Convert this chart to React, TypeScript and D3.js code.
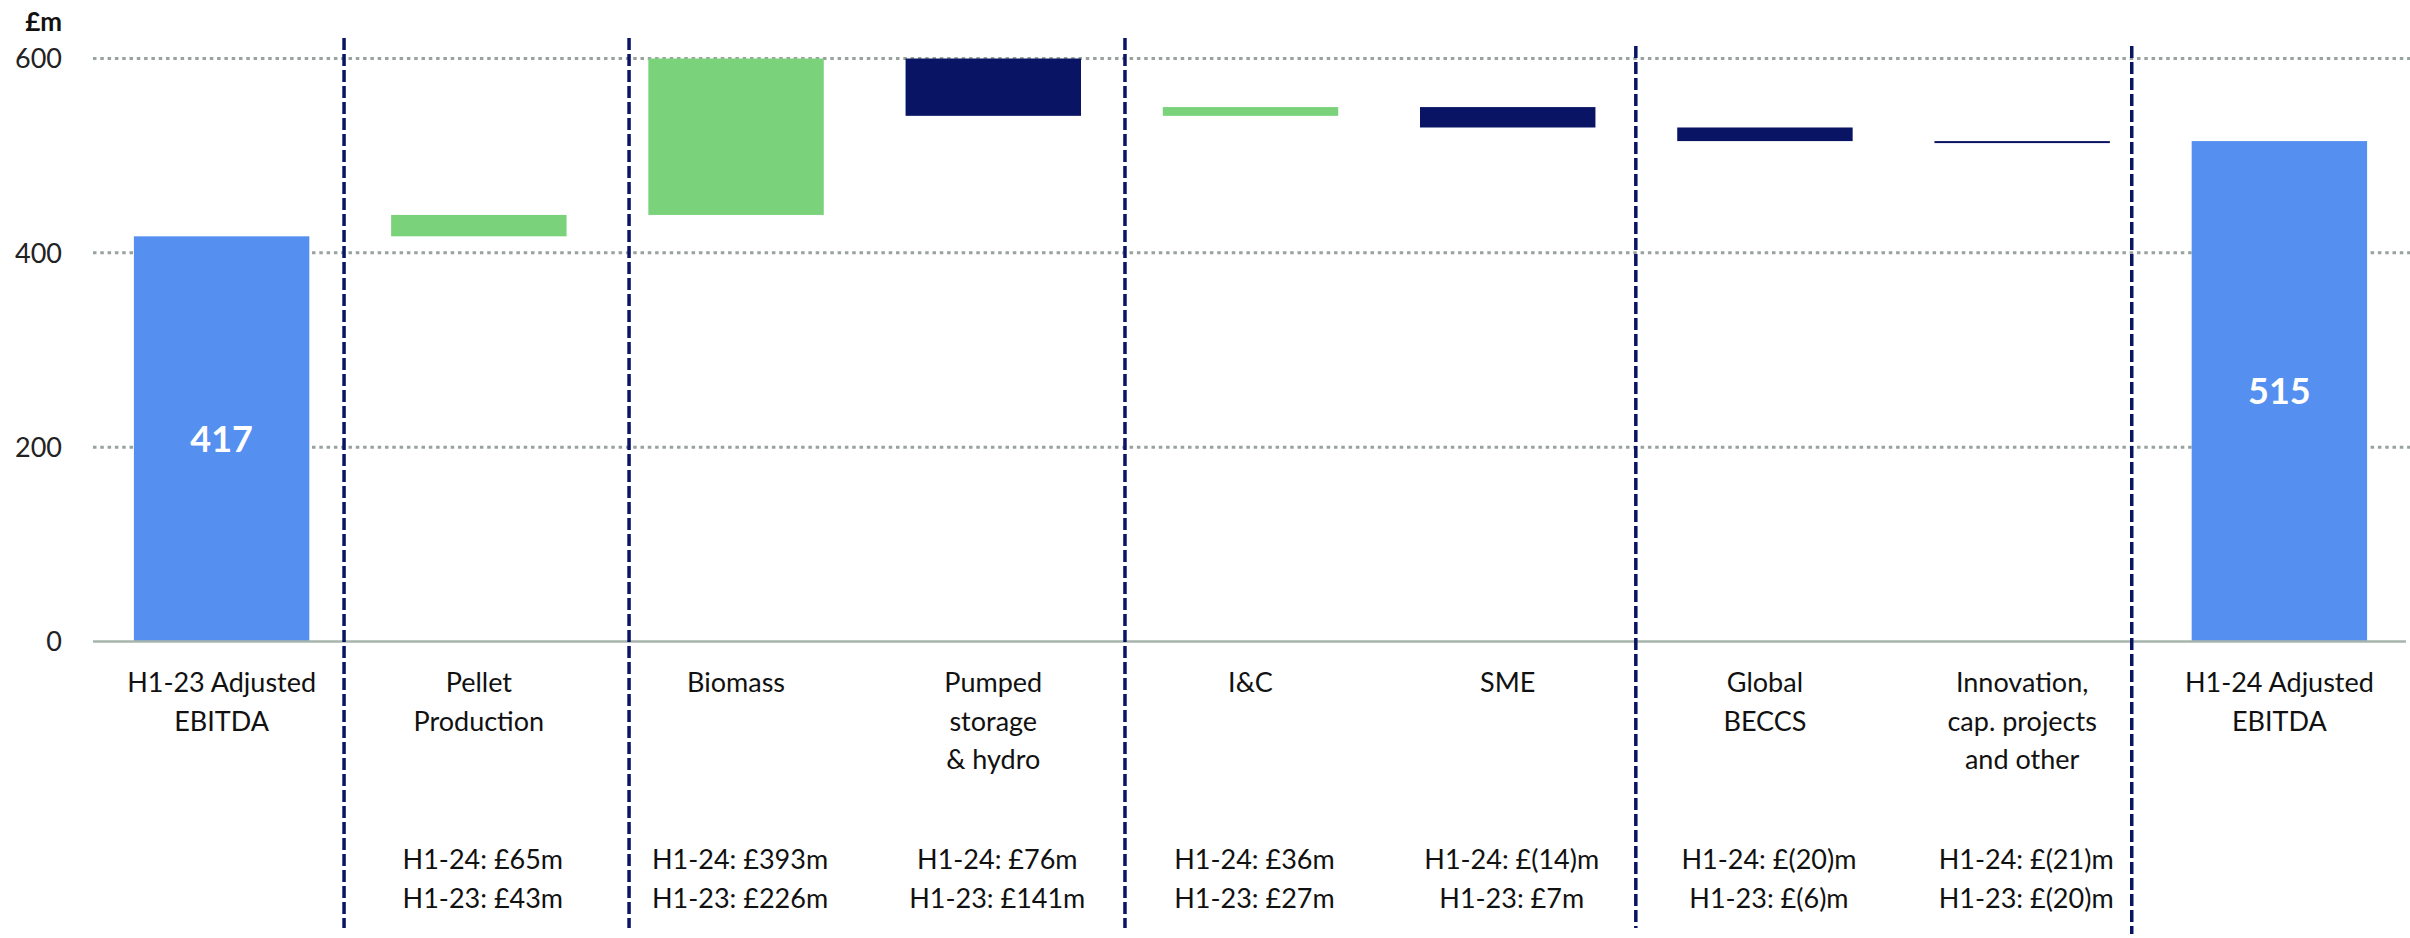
import { useEffect } from "react";
import * as d3 from "d3";

// waterfall data (£m)
const categories = [
  "H1-23 Adjusted EBITDA",
  "Pellet Production",
  "Biomass",
  "Pumped storage & hydro",
  "I&C",
  "SME",
  "Global BECCS",
  "Innovation, cap. projects and other",
  "H1-24 Adjusted EBITDA",
];
const labelLines = [
  ["H1-23 Adjusted", "EBITDA"],
  ["Pellet", "Production"],
  ["Biomass"],
  ["Pumped", "storage", "& hydro"],
  ["I&C"],
  ["SME"],
  ["Global", "BECCS"],
  ["Innovation,", "cap. projects", "and other"],
  ["H1-24 Adjusted", "EBITDA"],
];
const startValue = 417;
const endValue = 515;
const deltas = [22, 167, -65, 9, -21, -14, -1];
const h124 = ["", "£65m", "£393m", "£76m", "£36m", "£(14)m", "£(20)m", "£(21)m", ""];
const h123 = ["", "£43m", "£226m", "£141m", "£27m", "£7m", "£(6)m", "£(20)m", ""];
const yTicks = [0, 200, 400, 600];
// separators, in category steps from the left edge of the plot
const separators = [0.976, 2.084, 4.012, 5.998, 7.926];

const W = 2410;
const H = 938;
const FONT = "Lato, 'Open Sans', sans-serif";

export default function App() {
  useEffect(() => {
    document.body.style.margin = "0";
  }, []);

  const x = d3
    .scaleBand()
    .domain(categories)
    .range([93, 2408])
    .paddingInner(0.318)
    .paddingOuter(0.159);
  const y = d3.scaleLinear().domain([0, 600]).range([641.5, 58.5]).clamp(true);

  // build the floating bars
  let run = startValue;
  const bars = [{ cat: categories[0], y0: 0, y1: startValue, kind: "total" }];
  deltas.forEach((d, i) => {
    const next = run + d;
    bars.push({
      cat: categories[i + 1],
      y0: Math.min(run, next),
      y1: Math.max(run, next),
      kind: d >= 0 ? "up" : "down",
    });
    run = next;
  });
  bars.push({ cat: categories[8], y0: 0, y1: endValue, kind: "total" });

  const colour = { total: "#558FF0", up: "#7AD27A", down: "#0A1464" };
  const step = x.step();
  const x0 = x.range()[0];

  return (
    <svg width={W} height={H} style={{ display: "block", background: "#fff" }}>
      {/* grid */}
      {yTicks.map((t) =>
        t === 0 ? null : (
          <line
            key={t}
            x1={93}
            x2={W}
            y1={y(t)}
            y2={y(t)}
            stroke="#97A39C"
            strokeWidth={3}
            strokeDasharray="3.5 3.8"
          />
        )
      )}
      {yTicks.map((t) => (
        <text
          key={"t" + t}
          x={62}
          y={y(t)}
          dy="0.36em"
          textAnchor="end"
          fontFamily={FONT}
          fontSize={27}
          fill="#222"
        >
          {t}
        </text>
      ))}
      <text x={62} y={31} textAnchor="end" fontFamily={FONT} fontSize={26} fontWeight="bold" fill="#111">
        £m
      </text>

      {/* bars */}
      {bars.map((b) => {
        const top = y(b.y1);
        const h = Math.max(2, y(b.y0) - top);
        return (
          <rect
            key={b.cat}
            x={x(b.cat)}
            y={top}
            width={x.bandwidth()}
            height={h}
            fill={colour[b.kind]}
          />
        );
      })}
      {[bars[0], bars[8]].map((b) => (
        <text
          key={"v" + b.cat}
          x={(x(b.cat) as number) + x.bandwidth() / 2}
          y={(y(b.y1) + y(0)) / 2}
          dy="0.36em"
          textAnchor="middle"
          fontFamily={FONT}
          fontSize={36}
          fontWeight="bold"
          fill="#fff"
        >
          {b.y1}
        </text>
      ))}

      {/* baseline */}
      <line x1={93} x2={W - 4} y1={y(0)} y2={y(0)} stroke="#A7B5AC" strokeWidth={2.5} />

      {/* separators */}
      {separators.map((s, i) => (
        <line
          key={"s" + i}
          x1={x0 + s * step}
          x2={x0 + s * step}
          y1={i === 3 || i === 4 ? 46 : 38}
          y2={i === 4 ? 934 : 928}
          stroke="#0A1464"
          strokeWidth={3.5}
          strokeDasharray="12 4"
        />
      ))}

      {/* category labels */}
      {categories.map((c, i) => {
        const cx = (x(c) as number) + x.bandwidth() / 2;
        return (
          <g key={"c" + c} fontFamily={FONT} fontSize={27} fill="#111" textAnchor="middle">
            {labelLines[i].map((l, j) => (
              <text key={j} x={cx} y={692 + j * 38.7}>
                {l}
              </text>
            ))}
            {h124[i] && (
              <text x={cx + 4} y={869}>
                H1-24: {h124[i]}
              </text>
            )}
            {h123[i] && (
              <text x={cx + 4} y={908}>
                H1-23: {h123[i]}
              </text>
            )}
          </g>
        );
      })}
    </svg>
  );
}
